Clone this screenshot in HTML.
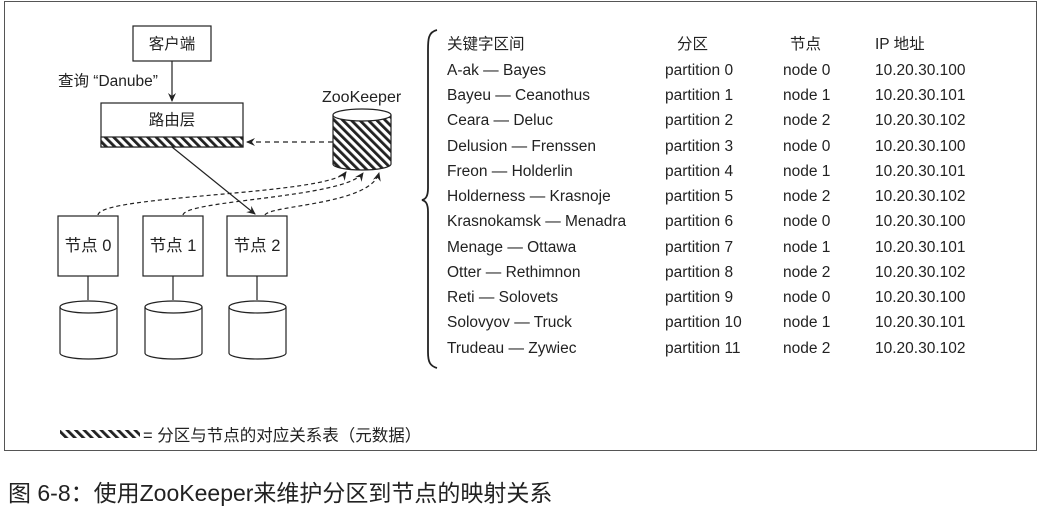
<!DOCTYPE html>
<html><head><meta charset="utf-8"><style>
html,body{margin:0;padding:0;background:#fff;}
svg{display:block;}
text{font-family:"Liberation Sans","Noto Sans CJK SC",sans-serif;fill:#222;}
</style></head><body>
<svg width="1043" height="509" viewBox="0 0 1043 509" xmlns="http://www.w3.org/2000/svg">
<defs>
<pattern id="h" patternUnits="userSpaceOnUse" width="6" height="6" patternTransform="rotate(-45)">
<rect width="6" height="6" fill="#fff"/><rect width="2.8" height="6" fill="#222"/>
</pattern>
<marker id="a" markerWidth="10" markerHeight="10" refX="8" refY="5" orient="auto" markerUnits="userSpaceOnUse">
<path d="M0,1 L9,5 L0,9 L3,5 Z" fill="#222"/></marker>
</defs>
<rect x="4.5" y="1.5" width="1032" height="449" fill="none" stroke="#555" stroke-width="1"/>
<g stroke="#222" stroke-width="1.2" fill="none">
<rect x="133" y="26" width="78" height="35" fill="#fff"/>
<line x1="172" y1="61" x2="172" y2="101" marker-end="url(#a)"/>
<rect x="101" y="103" width="142" height="44" fill="#fff"/>
<rect x="101" y="137" width="142" height="10" fill="url(#h)"/>
<line x1="172" y1="147" x2="255" y2="214" marker-end="url(#a)"/>
<path d="M333,115 L333,164 A29,6 0 0 0 391,164 L391,115" fill="url(#h)"/>
<ellipse cx="362" cy="115" rx="29" ry="6" fill="#fff"/>
<line x1="333" y1="142" x2="247" y2="142" stroke-dasharray="5,4" marker-end="url(#a)"/>
<path d="M98,215 C100,195 330,195 346,172" stroke-dasharray="4,3" marker-end="url(#a)"/>
<path d="M183,215 C185,200 345,198 363,173" stroke-dasharray="4,3" marker-end="url(#a)"/>
<path d="M265,215 C270,205 370,205 379,173" stroke-dasharray="4,3" marker-end="url(#a)"/>
<rect x="58" y="216" width="60" height="60" fill="#fff"/>
<rect x="143" y="216" width="60" height="60" fill="#fff"/>
<rect x="227" y="216" width="60" height="60" fill="#fff"/>
<line x1="88" y1="276" x2="88" y2="300"/>
<line x1="173" y1="276" x2="173" y2="300"/>
<line x1="257" y1="276" x2="257" y2="300"/>
<path d="M60,307 L60,353 A28.5,6 0 0 0 117,353 L117,307"/><ellipse cx="88.5" cy="307" rx="28.5" ry="6"/>
<path d="M145,307 L145,353 A28.5,6 0 0 0 202,353 L202,307"/><ellipse cx="173.5" cy="307" rx="28.5" ry="6"/>
<path d="M229,307 L229,353 A28.5,6 0 0 0 286,353 L286,307"/><ellipse cx="257.5" cy="307" rx="28.5" ry="6"/>
<path d="M437,30 C428,32 428,40 428,50 L428,188 C428,196 426,199 422,200 C426,201 428,204 428,212 L428,352 C428,362 430,366 437,368" stroke-width="1.8"/>
</g>
<rect x="60" y="430" width="80" height="8" fill="url(#h)"/>
<g font-size="15.5">
<text x="172" y="49" text-anchor="middle">客户端</text>
<text x="58" y="86">查询 “Danube”</text>
<text x="172" y="125" text-anchor="middle">路由层</text>
<text x="322" y="102" font-size="16">ZooKeeper</text>
<text x="88" y="251" text-anchor="middle" font-size="16.5">节点 0</text>
<text x="173" y="251" text-anchor="middle" font-size="16.5">节点 1</text>
<text x="257" y="251" text-anchor="middle" font-size="16.5">节点 2</text>
<text x="143" y="441" font-size="16.5">= 分区与节点的对应关系表（元数据）</text>
</g>
<g font-size="15.5">
<text x="447" y="49">关键字区间</text><text x="677" y="49">分区</text><text x="790" y="49">节点</text><text x="875" y="49">IP 地址</text>
<text y="75"><tspan x="447">A-ak — Bayes</tspan><tspan x="665">partition 0</tspan><tspan x="783">node 0</tspan><tspan x="875">10.20.30.100</tspan></text>
<text y="100"><tspan x="447">Bayeu — Ceanothus</tspan><tspan x="665">partition 1</tspan><tspan x="783">node 1</tspan><tspan x="875">10.20.30.101</tspan></text>
<text y="125"><tspan x="447">Ceara — Deluc</tspan><tspan x="665">partition 2</tspan><tspan x="783">node 2</tspan><tspan x="875">10.20.30.102</tspan></text>
<text y="151"><tspan x="447">Delusion — Frenssen</tspan><tspan x="665">partition 3</tspan><tspan x="783">node 0</tspan><tspan x="875">10.20.30.100</tspan></text>
<text y="176"><tspan x="447">Freon — Holderlin</tspan><tspan x="665">partition 4</tspan><tspan x="783">node 1</tspan><tspan x="875">10.20.30.101</tspan></text>
<text y="201"><tspan x="447">Holderness — Krasnoje</tspan><tspan x="665">partition 5</tspan><tspan x="783">node 2</tspan><tspan x="875">10.20.30.102</tspan></text>
<text y="226"><tspan x="447">Krasnokamsk — Menadra</tspan><tspan x="665">partition 6</tspan><tspan x="783">node 0</tspan><tspan x="875">10.20.30.100</tspan></text>
<text y="252"><tspan x="447">Menage — Ottawa</tspan><tspan x="665">partition 7</tspan><tspan x="783">node 1</tspan><tspan x="875">10.20.30.101</tspan></text>
<text y="277"><tspan x="447">Otter — Rethimnon</tspan><tspan x="665">partition 8</tspan><tspan x="783">node 2</tspan><tspan x="875">10.20.30.102</tspan></text>
<text y="302"><tspan x="447">Reti — Solovets</tspan><tspan x="665">partition 9</tspan><tspan x="783">node 0</tspan><tspan x="875">10.20.30.100</tspan></text>
<text y="327"><tspan x="447">Solovyov — Truck</tspan><tspan x="665">partition 10</tspan><tspan x="783">node 1</tspan><tspan x="875">10.20.30.101</tspan></text>
<text y="353"><tspan x="447">Trudeau — Zywiec</tspan><tspan x="665">partition 11</tspan><tspan x="783">node 2</tspan><tspan x="875">10.20.30.102</tspan></text>
</g>
<text x="8" y="501" font-size="23">图 6-8：使用ZooKeeper来维护分区到节点的映射关系</text>
</svg>
</body></html>
